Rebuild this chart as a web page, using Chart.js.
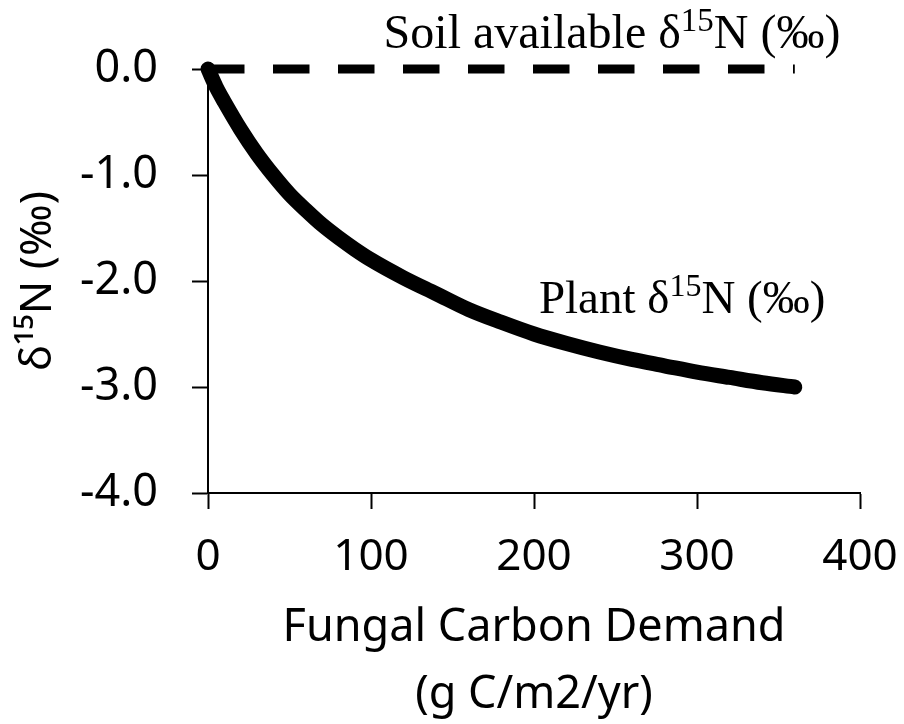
<!DOCTYPE html>
<html lang="en">
  <head>
    <meta charset="UTF-8" />
    <meta name="viewport" content="width=device-width, initial-scale=1.0" />
    <title>Plant δ15N vs fungal carbon demand</title>
    <style>
      body {
        margin: 0;
        background: #fff;
      }
      #wrap {
        position: relative;
        width: 904px;
        height: 724px;
      }
    </style>
  </head>
  <body>
    <div id="wrap"><canvas id="nChart"></canvas></div>
    <script src="https://cdn.jsdelivr.net/npm/chart.js"></script>
    <script>
      // fungal carbon demand (g C/m2/yr)
      const demand = [0, 5, 10, 20, 30, 40, 50, 60, 70, 80, 90, 100, 120, 140, 160, 180, 200, 220, 240, 260, 280, 300, 320, 340, 360];
      // plant d15N (‰)
      const plantN = [0, -0.17, -0.31, -0.57, -0.8, -1.0, -1.18, -1.33, -1.47, -1.59, -1.7, -1.8, -1.97, -2.12, -2.27, -2.39, -2.5, -2.59, -2.67, -2.74, -2.8, -2.86, -2.91, -2.96, -3.0];
      // soil available d15N, flat at zero
      const soilX = [0, 360];
      const soilN = [0, 0];

      const xTicks = [0, 100, 200, 300, 400];
      const yTicks = [0, -1, -2, -3, -4];

      const sans = "'Noto Sans', 'Open Sans', sans-serif";
      const serif = "'Liberation Serif', 'Times New Roman', serif";

      // text labels next to the lines, with a superscript "15"
      const lineLabels = [
        { pre: "Soil available δ", sup: "15", post: "N (‰)", x: 388, y: 0.2, align: "right", size: 48 },
        { pre: "Plant δ", sup: "15", post: "N (‰)", x: 203, y: -2.3, align: "left", size: 47 },
      ];

      const labelPlugin = {
        id: "lineLabels",
        afterDraw(chart) {
          const ctx = chart.ctx;
          const xs = chart.scales.x;
          const ys = chart.scales.y;
          ctx.save();
          ctx.fillStyle = "#000";
          ctx.textBaseline = "alphabetic";
          ctx.textAlign = "left";
          lineLabels.forEach((l) => {
            const size = l.size;
            const supSize = Math.round(size * 0.68);
            ctx.font = size + "px " + serif;
            const w1 = ctx.measureText(l.pre).width;
            const w3 = ctx.measureText(l.post).width;
            ctx.font = supSize + "px " + serif;
            const w2 = ctx.measureText(l.sup).width;
            const total = w1 + w2 + w3;
            let x = xs.getPixelForValue(l.x);
            if (l.align === "right") x -= total;
            const y = ys.getPixelForValue(l.y);
            ctx.font = size + "px " + serif;
            ctx.fillText(l.pre, x, y);
            ctx.font = supSize + "px " + serif;
            ctx.fillText(l.sup, x + w1, y - size * 0.36);
            ctx.font = size + "px " + serif;
            ctx.fillText(l.post, x + w1 + w2, y);
          });
          ctx.restore();
        },
      };

      const axisLine = { display: true, color: "#000", width: 2 };
      const tickGrid = {
        drawOnChartArea: false,
        drawTicks: true,
        tickLength: 16,
        tickColor: "#000",
        tickWidth: 2,
      };

      new Chart(document.getElementById("nChart"), {
        type: "line",
        data: {
          datasets: [
            {
              label: "Plant",
              data: demand.map((d, i) => ({ x: d, y: plantN[i] })),
              borderColor: "#000",
              borderWidth: 15,
              borderCapStyle: "round",
              borderJoinStyle: "round",
              cubicInterpolationMode: "monotone",
              pointRadius: 0,
              clip: false,
            },
            {
              label: "Soil available",
              data: soilX.map((d, i) => ({ x: d, y: soilN[i] })),
              borderColor: "#000",
              borderWidth: 9,
              borderDash: [36.5, 28.5],
              borderCapStyle: "butt",
              pointRadius: 0,
              clip: false,
            },
          ],
        },
        options: {
          responsive: true,
          maintainAspectRatio: false,
          animation: false,
          layout: { padding: { left: 0, top: 69, right: 44, bottom: 0 } },
          plugins: {
            legend: { display: false },
            tooltip: { enabled: false },
          },
          scales: {
            x: {
              type: "linear",
              min: 0,
              max: 400,
              afterBuildTicks: (s) => {
                s.ticks = xTicks.map((v) => ({ value: v }));
              },
              afterFit: (s) => {
                s.height = 231;
                // the 400 label may hang into the right margin
                s.paddingLeft = 0;
                s.paddingRight = 0;
              },
              grid: tickGrid,
              border: axisLine,
              ticks: {
                color: "#000",
                font: { family: sans, size: 44 },
                padding: 22,
                maxRotation: 0,
              },
              title: {
                display: true,
                text: ["Fungal Carbon Demand", "(g C/m2/yr)"],
                color: "#000",
                font: { family: sans, size: 45, lineHeight: 1.48 },
                padding: { top: 0, bottom: -4 },
              },
            },
            y: {
              type: "linear",
              min: -4,
              max: 0,
              afterBuildTicks: (s) => {
                s.ticks = yTicks.map((v) => ({ value: v }));
              },
              afterFit: (s) => {
                s.width = 208;
              },
              grid: tickGrid,
              border: axisLine,
              ticks: {
                color: "#000",
                font: { family: sans, size: 45 },
                padding: 34,
                callback: (v) => Number(v).toFixed(1),
              },
              title: {
                display: true,
                text: "δ¹⁵N (‰)",
                color: "#000",
                font: { family: sans, size: 44, lineHeight: 1.2 },
                padding: { top: 12, bottom: 0 },
              },
            },
          },
        },
        plugins: [labelPlugin],
      });
    </script>
  </body>
</html>
